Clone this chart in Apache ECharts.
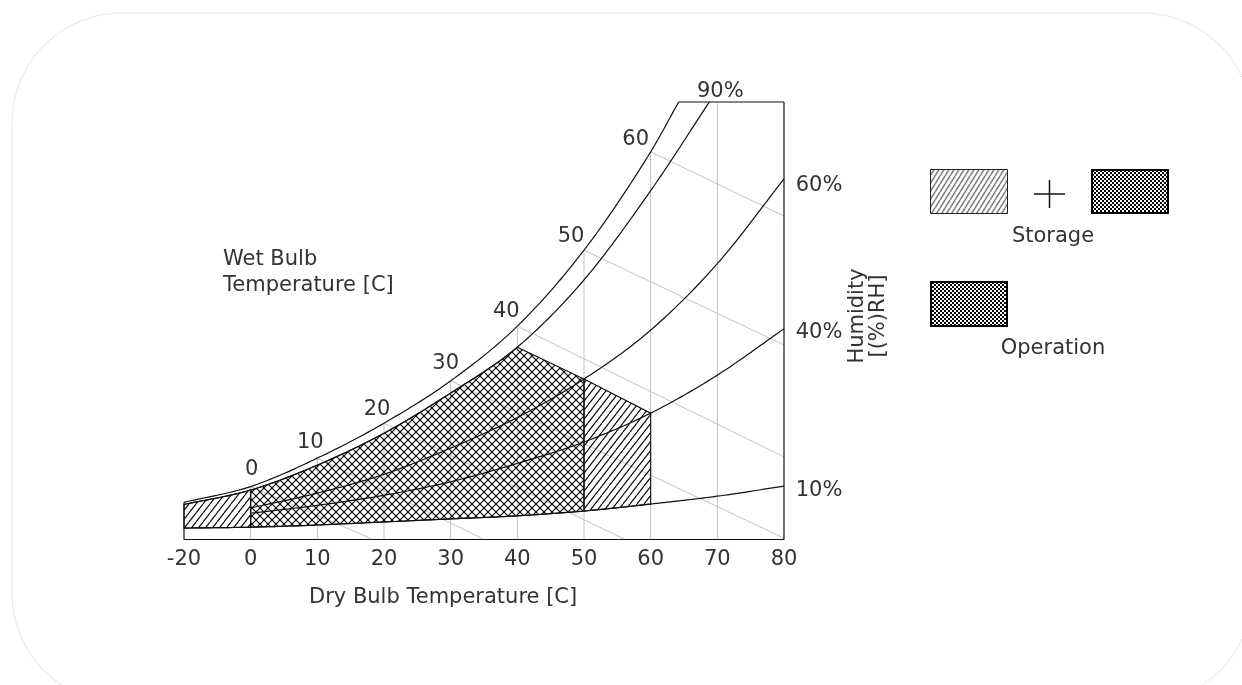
<!DOCTYPE html>
<html><head><meta charset="utf-8">
<script src="https://cdn.jsdelivr.net/npm/echarts@6/dist/echarts.min.js"></script>
<style>html,body{margin:0;padding:0;background:#fff}#c{width:1242px;height:685px}</style>
</head><body><div id="c"></div>
<script>
// ---------- data ----------
const dryBulbTicks = [-20, 0, 10, 20, 30, 40, 50, 60, 70, 80];
const gridTemps = [0, 10, 20, 30, 40, 50, 60, 70];
// saturation (100% RH) curve
const satT = [-20, 0, 10, 20, 30, 40, 50, 60, 64.2];
const satV = [8.4, 12.0, 18.5, 26.5, 36.2, 48.7, 66.1, 88.6, 100];
// 90% RH
const rh90T = [-20, 0, 10, 20, 30, 40, 50, 60, 68.8];
const rh90V = [7.9, 11.2, 16.9, 24.2, 33.4, 43.9, 59.3, 79.7, 100];
// 60% and 40% RH
const rhMidT = [0, 10, 20, 30, 40, 50, 60, 70, 80];
const rh60V = [7.1, 10.5, 14.8, 20.8, 27.8, 36.6, 47.8, 63.0, 82.4];
const rh40V = [5.9, 7.7, 10.0, 13.1, 17.3, 22.2, 28.8, 37.5, 48.1];
// 10% RH
const rh10T = [-20, 0, 10, 20, 30, 40, 50, 60, 70, 80];
const rh10V = [2.5, 2.7, 3.2, 3.9, 4.6, 5.3, 6.4, 8.0, 9.8, 12.1];
// wet bulb lines
const wetBulbT = [0, 10, 20, 30, 40, 50, 60];
const wetBulbEndT = [18.2, 34.9, 56, 80, 80, 80, 80];
const wetBulbEndV = [0, 0, 0, 0.2, 18.8, 44.4, 73.9];
const wetBulbLabels = ['0', '10', '20', '30', '40', '50', '60'];
const rhLabels = ['90%', '60%', '40%', '10%'];
// regions (dry bulb ranges)
const operationRange = [0, 40, 50];
const storageLowRange = [-20, 0];
const storageHighRange = [50, 60];
const topValue = 100;

// ---------- styles ----------
const FONT = 'DejaVu Sans';
const FS = 21;
const TXT = '#333';
const wbLabelOffsets = [[1, -17], [-7, -16], [-7, -14], [-5, -17], [-11, -15], [-13, -14], [-15, -12]];
const rhLabelOffsets = [[11, -10], [35, 7], [35, 4], [35, 4]];

// dry-bulb axis is compressed below 0
const ax = t => (t < 0 ? t / 2 : t);

function monotone(xs, ys) {
  const n = xs.length, d = [], m = new Array(n);
  for (let i = 0; i < n - 1; i++) d.push((ys[i + 1] - ys[i]) / (xs[i + 1] - xs[i]));
  m[0] = d[0]; m[n - 1] = d[n - 2];
  for (let i = 1; i < n - 1; i++) m[i] = d[i - 1] * d[i] <= 0 ? 0 : (d[i - 1] + d[i]) / 2;
  for (let i = 0; i < n - 1; i++) {
    if (d[i] === 0) { m[i] = 0; m[i + 1] = 0; continue; }
    const a = m[i] / d[i], b = m[i + 1] / d[i], s = a * a + b * b;
    if (s > 9) { const t = 3 / Math.sqrt(s); m[i] = t * a * d[i]; m[i + 1] = t * b * d[i]; }
  }
  return x => {
    let i = 0;
    while (i < n - 2 && x > xs[i + 1]) i++;
    const h = xs[i + 1] - xs[i], t = (x - xs[i]) / h, t2 = t * t, t3 = t2 * t;
    return (2 * t3 - 3 * t2 + 1) * ys[i] + (t3 - 2 * t2 + t) * h * m[i] +
      (-2 * t3 + 3 * t2) * ys[i + 1] + (t3 - t2) * h * m[i + 1];
  };
}
function curve(T, V) { const xs = T.map(ax); return { xs, ys: V, f: monotone(xs, V) }; }
const sat = curve(satT, satV), rh90 = curve(rh90T, rh90V), rh60 = curve(rhMidT, rh60V),
  rh40 = curve(rhMidT, rh40V), rh10 = curve(rh10T, rh10V);
const satAt = x => (x >= sat.xs[sat.xs.length - 1] ? topValue : sat.f(x));

function sample(api, c, x0, x1, steps) {
  const pts = [];
  for (let k = 0; k <= steps; k++) {
    const x = x0 + (x1 - x0) * k / steps;
    pts.push(api.coord([x, c.f(x)]));
  }
  return pts;
}

// ---------- patterns ----------
function mkCanvas(w, h) { const c = document.createElement('canvas'); c.width = w; c.height = h; return c; }
function hatch(w, h, color, lw, cross) {
  const c = mkCanvas(w, h), g = c.getContext('2d');
  g.strokeStyle = color; g.lineWidth = lw;
  for (const o of [-w, 0, w]) {
    g.beginPath(); g.moveTo(o, h); g.lineTo(o + w, 0); g.stroke();
    if (cross) { g.beginPath(); g.moveTo(o, 0); g.lineTo(o + w, h); g.stroke(); }
  }
  return c;
}
function checker(cell) {
  const c = mkCanvas(cell * 2, cell * 2), g = c.getContext('2d');
  g.fillStyle = '#000'; g.fillRect(0, 0, cell * 2, cell * 2);
  g.fillStyle = '#fff'; g.fillRect(0, 0, cell, cell); g.fillRect(cell, cell, cell, cell);
  return c;
}
const crossPat = { image: hatch(8, 8, '#000', 1.1, true), repeat: 'repeat' };
const diagPat = { image: hatch(7, 9, '#000', 1.1, false), repeat: 'repeat' };
const legendDiag = { image: hatch(5, 8, '#808080', 1.6, false), repeat: 'repeat' };
const legendCheck = { image: checker(2), repeat: 'repeat' };

// ---------- series ----------
function curveSeries(name, c) {
  return {
    type: 'custom', name, z: 5, silent: true, clip: false,
    data: c.xs.map((x, i) => [x, c.ys[i]]),
    renderItem: (params, api) => {
      const i = params.dataIndex;
      if (i >= c.xs.length - 1) return null;
      return { type: 'polyline', shape: { points: sample(api, c, c.xs[i], c.xs[i + 1], 20) },
        style: { stroke: '#111', lineWidth: 1.2, fill: null } };
    }
  };
}
const labelStyle = { show: true, position: 'inside', color: TXT, fontFamily: FONT, fontSize: FS,
  align: 'center', verticalAlign: 'middle', opacity: 1 };

const series = [
  { // vertical dry-bulb grid lines
    type: 'custom', z: 1, silent: true,
    data: gridTemps.map(t => [ax(t), 0]),
    renderItem: (p, api) => {
      const x = api.value(0), a = api.coord([x, 0]), b = api.coord([x, satAt(x)]);
      return { type: 'line', shape: { x1: a[0], y1: a[1], x2: b[0], y2: b[1] },
        style: { stroke: '#c2c2c2', lineWidth: 1 } };
    }
  },
  { // wet bulb lines
    type: 'custom', z: 1, silent: true, encode: { x: [0, 2], y: [1, 3] },
    data: wetBulbT.map((t, i) => [ax(t), sat.f(ax(t)), ax(wetBulbEndT[i]), wetBulbEndV[i]]),
    renderItem: (p, api) => {
      const a = api.coord([api.value(0), api.value(1)]), b = api.coord([api.value(2), api.value(3)]);
      return { type: 'line', shape: { x1: a[0], y1: a[1], x2: b[0], y2: b[1] },
        style: { stroke: '#c2c2c2', lineWidth: 1 } };
    }
  },
  { // operation / storage regions
    type: 'custom', z: 3, silent: true, clip: false,
    data: [[ax(operationRange[0]), 0], [ax(storageLowRange[0]), 0], [ax(storageHighRange[0]), 0]],
    renderItem: (p, api) => {
      let pts, fill;
      if (p.dataIndex === 0) {
        const [x0, x1, x2] = operationRange.map(ax);
        pts = sample(api, rh90, x0, x1, 60)
          .concat([api.coord([x2, rh60.f(x2)]), api.coord([x2, rh10.f(x2)])])
          .concat(sample(api, rh10, x2, x0, 60));
        fill = crossPat;
      } else if (p.dataIndex === 1) {
        const [x0, x1] = storageLowRange.map(ax);
        pts = sample(api, rh90, x0, x1, 20).concat(sample(api, rh10, x1, x0, 20));
        fill = diagPat;
      } else {
        const [x0, x1] = storageHighRange.map(ax);
        pts = [api.coord([x0, rh60.f(x0)]), api.coord([x1, rh40.f(x1)])]
          .concat(sample(api, rh10, x1, x0, 20));
        fill = diagPat;
      }
      return { type: 'polygon', shape: { points: pts },
        style: { fill, stroke: '#111', lineWidth: 1.1 } };
    }
  },
  curveSeries('sat', sat), curveSeries('rh90', rh90), curveSeries('rh60', rh60),
  curveSeries('rh40', rh40), curveSeries('rh10', rh10),
  { // frame: left edge, top edge, right edge
    type: 'custom', z: 5, silent: true, clip: false, encode: { x: [0, 2], y: [1, 3] },
    data: [
      [ax(dryBulbTicks[0]), 0, ax(dryBulbTicks[0]), satV[0]],
      [ax(satT[satT.length - 1]), topValue, ax(dryBulbTicks[dryBulbTicks.length - 1]), topValue],
      [ax(dryBulbTicks[dryBulbTicks.length - 1]), 0, ax(dryBulbTicks[dryBulbTicks.length - 1]), topValue]
    ],
    renderItem: (p, api) => {
      const a = api.coord([api.value(0), api.value(1)]), b = api.coord([api.value(2), api.value(3)]);
      return { type: 'line', shape: { x1: a[0], y1: a[1], x2: b[0], y2: b[1] },
        style: { stroke: '#111', lineWidth: 1.2 } };
    }
  },
  { // wet bulb labels
    type: 'scatter', z: 6, silent: true, symbolSize: 0, clip: false,
    itemStyle: { opacity: 1 },
    data: wetBulbT.map((t, i) => ({ value: [ax(t), sat.f(ax(t))],
      label: { offset: wbLabelOffsets[i] } })),
    label: Object.assign({ formatter: p => wetBulbLabels[p.dataIndex] }, labelStyle)
  },
  { // RH labels
    type: 'scatter', z: 6, silent: true, symbolSize: 0, clip: false,
    itemStyle: { opacity: 1 },
    data: [[rh90.xs[rh90.xs.length - 1], topValue], [rh60.xs[rh60.xs.length - 1], rh60V[rh60V.length - 1]],
      [rh40.xs[rh40.xs.length - 1], rh40V[rh40V.length - 1]], [rh10.xs[rh10.xs.length - 1], rh10V[rh10V.length - 1]]]
      .map((v, i) => ({ value: v, label: { offset: rhLabelOffsets[i] } })),
    label: Object.assign({ formatter: p => rhLabels[p.dataIndex] }, labelStyle)
  }
];

const font = FS + 'px "DejaVu Sans"';
const graphic = [
  { type: 'rect', z: -10, silent: true, shape: { x: 12, y: 13, width: 1240, height: 690, r: 110 },
    style: { fill: '#fff', stroke: '#c8c8c8', lineWidth: 1, lineDash: [1, 1] } },
  { type: 'text', left: 223, top: 247, style: { text: 'Wet Bulb\nTemperature [C]', fill: TXT,
    font, lineHeight: 26 } },
  { type: 'text', left: 309, top: 587, style: { text: 'Dry Bulb Temperature [C]', fill: TXT, font } },
  { type: 'text', x: 868, y: 316, rotation: Math.PI / 2, style: { text: 'Humidity\n[(%)RH]', fill: TXT,
    font, align: 'center', verticalAlign: 'middle', lineHeight: 21 } },
  // legend
  { type: 'rect', shape: { x: 930.5, y: 169.5, width: 77, height: 44 },
    style: { fill: legendDiag, stroke: '#222', lineWidth: 1 } },
  { type: 'line', shape: { x1: 1034, y1: 194, x2: 1065, y2: 194 }, style: { stroke: '#111', lineWidth: 1.5 } },
  { type: 'line', shape: { x1: 1049.5, y1: 180, x2: 1049.5, y2: 208 }, style: { stroke: '#111', lineWidth: 1.5 } },
  { type: 'rect', shape: { x: 1092, y: 170, width: 76, height: 43 },
    style: { fill: legendCheck, stroke: '#000', lineWidth: 2 } },
  { type: 'text', x: 1053, y: 237, style: { text: 'Storage', fill: TXT, font,
    align: 'center', verticalAlign: 'middle' } },
  { type: 'rect', shape: { x: 931, y: 282, width: 76, height: 44 },
    style: { fill: legendCheck, stroke: '#000', lineWidth: 2 } },
  { type: 'text', x: 1053, y: 349, style: { text: 'Operation', fill: TXT, font,
    align: 'center', verticalAlign: 'middle' } }
];

const chart = echarts.init(document.getElementById('c'));
chart.setOption({
  animation: false,
  backgroundColor: '#fff',
  grid: { left: 184, right: 458, top: 102, bottom: 146, containLabel: false },
  xAxis: {
    type: 'value', min: ax(dryBulbTicks[0]), max: 80, interval: 10,
    axisLine: { show: true, onZero: false, lineStyle: { color: '#111', width: 1.2 } },
    axisTick: { show: false }, splitLine: { show: false },
    axisLabel: { color: TXT, fontFamily: FONT, fontSize: FS, margin: 10,
      formatter: v => String(v < 0 ? dryBulbTicks[0] : v) }
  },
  yAxis: { type: 'value', min: 0, max: topValue, show: false, splitLine: { show: false } },
  graphic,
  series
});
</script></body></html>
